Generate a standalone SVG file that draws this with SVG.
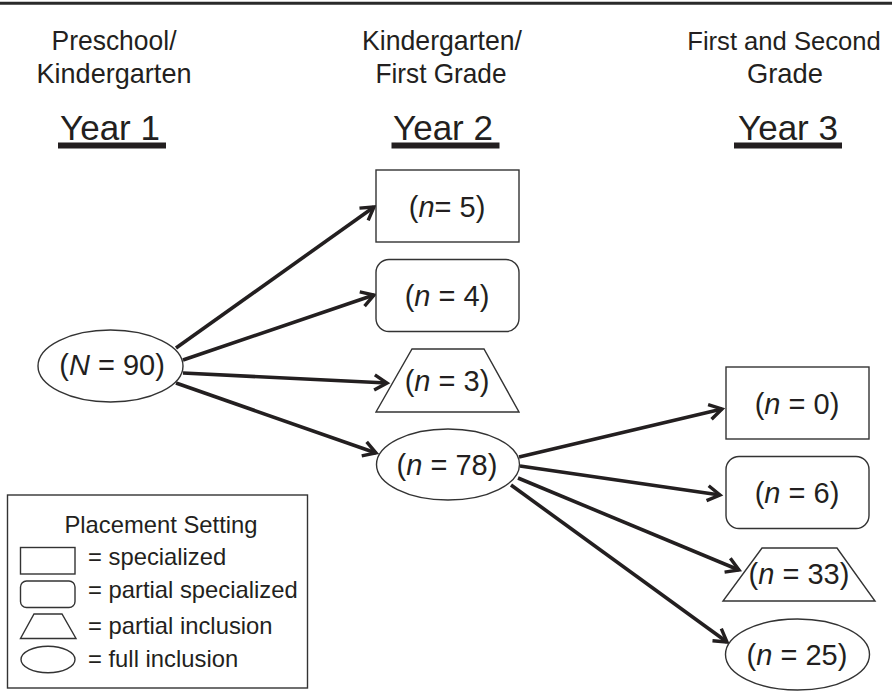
<svg xmlns="http://www.w3.org/2000/svg" width="892" height="692" viewBox="0 0 892 692">
<defs>
<style>
text{font-family:"Liberation Sans",Arial,sans-serif;fill:#231f20;}
.hd{font-size:28px;text-anchor:middle;}
.yr{font-size:35px;text-anchor:middle;}
.nd{font-size:29px;text-anchor:middle;}
.lg{font-size:23.8px;}
.shape{fill:#fff;stroke:#333;stroke-width:1.4;}
.conn{stroke:#231f20;stroke-width:3.6;fill:none;marker-end:url(#arr);}
.it{font-style:italic;}
</style>
<marker id="arr" markerUnits="userSpaceOnUse" markerWidth="22" markerHeight="22" viewBox="0 0 22 22" refX="16" refY="11" orient="auto">
<path d="M3.5,3.5 L16,11 L3.5,18.5" fill="none" stroke="#231f20" stroke-width="3.4" stroke-linejoin="miter"/>
</marker>
</defs>
<rect width="892" height="692" fill="#fff"/>
<line x1="0" y1="3.3" x2="892" y2="3.3" stroke="#2a2a2a" stroke-width="3"/>

<g id="headers">
<text class="hd" x="114" y="50" textLength="125" lengthAdjust="spacingAndGlyphs">Preschool/</text>
<text class="hd" x="114" y="83" textLength="155" lengthAdjust="spacingAndGlyphs">Kindergarten</text>
<text class="hd" x="442" y="50" textLength="160" lengthAdjust="spacingAndGlyphs">Kindergarten/</text>
<text class="hd" x="441" y="83" textLength="131" lengthAdjust="spacingAndGlyphs">First Grade</text>
<text class="hd" x="784" y="50" style="font-size:25.6px">First and Second</text>
<text class="hd" x="785" y="83" textLength="76" lengthAdjust="spacingAndGlyphs">Grade</text>
<text class="yr" x="110" y="140">Year 1</text>
<rect x="58" y="142.5" width="108" height="6" fill="#231f20"/>
<text class="yr" x="443" y="140">Year 2</text>
<rect x="391.5" y="142.5" width="108" height="6" fill="#231f20"/>
<text class="yr" x="788" y="140">Year 3</text>
<rect x="734" y="142.5" width="108" height="6" fill="#231f20"/>
</g>

<g id="connectors">
<line class="conn" x1="176" y1="348" x2="374" y2="207"/>
<line class="conn" x1="183" y1="360" x2="374" y2="295"/>
<line class="conn" x1="183" y1="373" x2="387" y2="383"/>
<line class="conn" x1="176" y1="383" x2="376" y2="453"/>
<line class="conn" x1="519" y1="457" x2="722" y2="409"/>
<line class="conn" x1="520" y1="466" x2="720" y2="495"/>
<line class="conn" x1="518" y1="478" x2="739" y2="570"/>
<line class="conn" x1="511" y1="485" x2="727" y2="642"/>
</g>

<g id="n90">
<ellipse class="shape" cx="110.5" cy="366" rx="72.5" ry="36"/>
<text class="nd" x="112" y="375">(<tspan class="it">N</tspan> = 90)</text>
</g>
<g id="n5">
<rect class="shape" x="376" y="170" width="143" height="72"/>
<text class="nd" x="447" y="217">(<tspan class="it">n</tspan>= 5)</text>
</g>
<g id="n4">
<rect class="shape" x="376" y="259.5" width="143" height="72" rx="13"/>
<text class="nd" x="447" y="306">(<tspan class="it">n</tspan> = 4)</text>
</g>
<g id="n3">
<polygon class="shape" points="412,349 484,349 519,412 376,412"/>
<text class="nd" x="447" y="391">(<tspan class="it">n</tspan> = 3)</text>
</g>
<g id="n78">
<ellipse class="shape" cx="448" cy="464.5" rx="71.5" ry="35.5"/>
<text class="nd" x="447" y="475">(<tspan class="it">n</tspan> = 78)</text>
</g>
<g id="n0">
<rect class="shape" x="726" y="367" width="143" height="72"/>
<text class="nd" x="797" y="414">(<tspan class="it">n</tspan> = 0)</text>
</g>
<g id="n6">
<rect class="shape" x="726" y="456.5" width="143" height="72" rx="13"/>
<text class="nd" x="797" y="503">(<tspan class="it">n</tspan> = 6)</text>
</g>
<g id="n33">
<polygon class="shape" points="762,548 837,548 875,601 723,601"/>
<text class="nd" x="799" y="584">(<tspan class="it">n</tspan> = 33)</text>
</g>
<g id="n25">
<ellipse class="shape" cx="797.5" cy="654.5" rx="72" ry="35.5"/>
<text class="nd" x="797" y="665">(<tspan class="it">n</tspan> = 25)</text>
</g>

<g id="legend">
<rect x="7.5" y="495" width="300" height="193" fill="#fff" stroke="#333" stroke-width="1.4"/>
<text class="lg" x="161" y="533" text-anchor="middle">Placement Setting</text>
<rect class="shape" x="20.5" y="547.5" width="54.5" height="26.5"/>
<text class="lg" x="88" y="565">= specialized</text>
<rect class="shape" x="20.5" y="581" width="54.5" height="26.5" rx="6"/>
<text class="lg" x="88" y="598">= partial specialized</text>
<polygon class="shape" points="34,614 62,614 76,638.5 20.5,638.5"/>
<text class="lg" x="88" y="634">= partial inclusion</text>
<ellipse class="shape" cx="48" cy="659.5" rx="27" ry="13.3"/>
<text class="lg" x="88" y="667">= full inclusion</text>
</g>
</svg>
